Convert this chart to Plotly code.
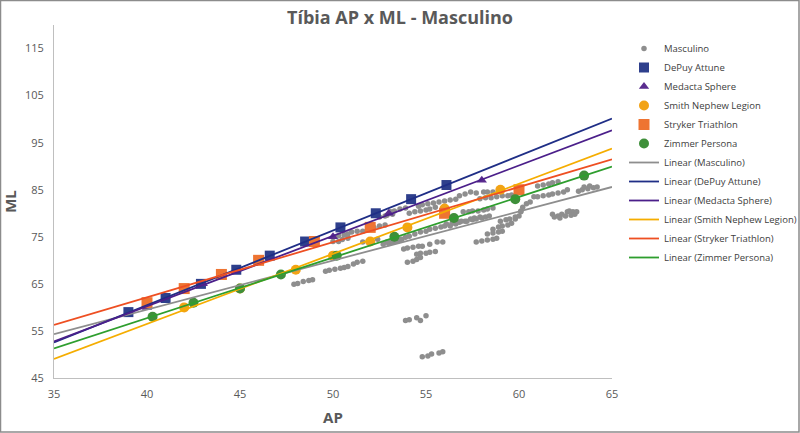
import numpy as np
import plotly.graph_objects as go

# ---------------- data ----------------
masc_x = [47.9, 48.1, 48.4, 48.7, 48.9,
          49.6, 49.8, 50.1, 50.4, 50.6, 50.8, 51.1, 51.3, 51.6,
          50.0, 50.3, 50.5, 50.8,
          50.8, 51.0, 51.3, 51.6,
          52.5, 52.8, 52.9, 53.2,
          52.7, 53.0, 53.2, 53.5, 53.7,
          53.8, 54.0, 54.3, 54.6, 54.8, 55.2, 55.6, 55.9,
          54.0, 54.3, 54.5, 54.7, 55.0, 55.2, 55.5, 54.5, 54.7,
          53.9, 54.1, 54.5, 54.7, 55.0,
          54.8, 55.1, 55.3, 55.7, 55.9,
          56.8, 57.1, 57.4, 57.7, 58.1, 58.3, 58.6,
          57.9, 58.2, 58.5,
          57.7, 58.0, 58.3, 58.6, 58.8,
          58.6, 58.9, 59.1, 59.4, 59.6, 59.8, 60.1,
          59.0, 59.3, 59.5, 59.8, 60.0,
          61.0, 61.3, 61.6, 61.8, 62.1,
          60.8, 61.0, 61.3, 61.6, 61.8, 62.1, 62.4, 62.6,
          63.2, 63.4, 63.7, 64.0, 64.2,
          63.5, 63.8,
          61.8, 62.1, 62.3, 62.6, 62.7, 62.9, 63.1,
          61.9, 62.2, 62.5, 62.8, 63.0,
          60.1, 60.2, 60.4, 60.6,
          58.8, 59.1, 59.4, 59.6,
          58.3, 58.6, 58.9, 59.1,
          53.1, 53.3, 53.6, 53.9, 54.1, 54.4, 54.7, 55.0, 55.2, 55.5, 55.8, 56.0,
          56.3, 56.6, 56.8, 57.1, 57.4, 57.6, 57.9, 58.2, 58.4,
          54.1, 54.4, 54.7, 55.0, 55.2, 55.5,
          53.1, 53.3, 53.6, 53.9,
          57.0, 57.3, 57.5, 57.8, 58.1, 58.3, 58.6,
          56.1, 56.4, 56.7, 56.9, 57.2, 57.5, 57.7, 58.0,
          51.6, 52.0, 52.4, 52.9, 53.2, 53.4,
          54.6, 54.8, 55.1, 55.4, 55.7, 56.0, 56.3, 56.6,
          51.9, 52.2, 52.5, 52.8, 50.3, 50.6]
masc_y = [64.9, 65.1, 65.5, 65.7, 65.9,
          67.7, 67.9, 68.1, 68.3, 68.5, 68.7, 69.2, 69.6, 69.8,
          74.0, 74.0, 74.4, 74.7,
          75.6, 76.0, 76.2, 76.2,
          79.2, 79.4, 79.6, 79.8,
          73.4, 73.6, 73.9, 74.1, 74.5,
          72.4, 72.6, 72.8, 73.0, 73.0, 73.4, 73.9, 73.9,
          69.6, 69.8, 70.2, 70.6, 71.5, 71.7, 71.9, 71.3, 71.5,
          57.2, 57.4, 57.8, 57.2, 58.2,
          49.5, 49.7, 50.1, 50.3, 50.6,
          83.7, 84.1, 84.5, 84.3, 84.5, 84.5, 84.5,
          83.1, 83.3, 83.3,
          73.9, 74.1, 74.3, 74.5, 74.7,
          76.6, 77.1, 77.3, 77.5, 77.9, 78.8, 80.3,
          78.3, 78.6, 78.8, 79.2, 79.4,
          85.8, 86.0, 86.2, 86.5, 86.7,
          83.5, 83.5, 83.7, 83.9, 84.1, 84.3, 84.5, 85.0,
          84.7, 85.0, 85.2, 85.4, 85.6,
          85.6, 85.8,
          79.8, 79.4, 79.8, 80.3, 80.5, 80.3, 80.3,
          79.2, 79.0, 79.4, 79.6, 79.8,
          80.5, 81.3, 82.0, 82.4,
          83.5, 83.7, 83.7, 83.9,
          75.6, 75.8, 76.0, 76.2,
          73.9, 74.1, 74.5, 74.9, 75.1, 75.6, 76.0, 76.2, 76.6, 76.8, 77.1, 77.3,
          77.3, 77.7, 78.1, 78.3, 78.8, 79.0, 79.2, 79.2, 79.4,
          80.0, 80.3, 80.5, 80.7, 80.9, 81.3,
          80.3, 80.5, 80.9, 81.1,
          80.3, 80.3, 80.5, 80.5, 80.7, 80.9, 81.1,
          77.7, 77.9, 78.1, 78.3, 78.3, 78.6, 78.8, 79.0,
          73.9, 74.1, 74.5, 73.9, 73.9, 74.1,
          81.5, 81.8, 82.0, 82.2, 82.4, 82.6, 82.8, 83.0,
          76.6, 77.0, 77.3, 77.5, 75.2, 75.4]

depuy_x = [39.0, 41.0, 42.9, 44.8, 46.6, 48.5, 50.4, 52.3, 54.2, 56.1]
depuy_y = [59, 62, 65, 68, 71, 74, 77, 80, 83, 86]

medacta_x = [40.0, 43.0, 50.0, 53.0, 58.0]
medacta_y = [60, 65, 75, 80, 87]

smith_x = [42, 45, 48, 50, 52, 54, 56, 59]
smith_y = [60, 64, 68, 71, 74, 77, 81, 85]

stryker_x = [40, 42, 44, 46, 49, 52, 56, 60]
stryker_y = [61, 64, 67, 70, 74, 77, 80, 85]

zimmer_x = [40.3, 42.5, 45.0, 47.2, 50.2, 53.3, 56.5, 59.8, 63.5]
zimmer_y = [58, 61, 64, 67, 71, 75, 79, 83, 88]

x_range = [35, 65]
y_range = [45, 120]
x_ticks = [35, 40, 45, 50, 55, 60, 65]
y_ticks = [45, 55, 65, 75, 85, 95, 105, 115]

# ---------------- figure ----------------
FONT = "Open Sans"
TXT = "#595959"

series = [
    ("Masculino", masc_x, masc_y, dict(symbol="circle", size=5.5, color="#8E8E8E"), "#8E8E8E"),
    ("DePuy Attune", depuy_x, depuy_y, dict(symbol="square", size=10, color="#2E3F8C"), "#1F2E86"),
    ("Medacta Sphere", medacta_x, medacta_y, dict(symbol="triangle-up", size=9, color="#5A2C8E"), "#4B1F8A"),
    ("Smith Nephew Legion", smith_x, smith_y, dict(symbol="circle", size=10, color="#F2A316"), "#F5AD00"),
    ("Stryker Triathlon", stryker_x, stryker_y, dict(symbol="square", size=11, color="#EE7432"), "#EE4F22"),
    ("Zimmer Persona", zimmer_x, zimmer_y, dict(symbol="circle", size=10, color="#3F8F3A"), "#2E9E2E"),
]

fig = go.Figure()
for name, xs, ys, mk, _ in series:
    fig.add_trace(go.Scatter(x=xs, y=ys, mode="markers", name=name, marker=mk))

# linear trendlines (least-squares fit of each series), like the spreadsheet's "Linear" trendline
for name, xs, ys, _, lc in series:
    slope, icpt = np.polyfit(np.array(xs, float), np.array(ys, float), 1)
    lx = np.array(x_range, float)
    fig.add_trace(go.Scatter(x=lx, y=slope * lx + icpt, mode="lines",
                             name=f"Linear ({name})", line=dict(color=lc, width=1.8)))

W, H = 800, 433
L, R, T, B = 54, 188, 25, 55
pw, ph = W - L - R, H - T - B

fig.update_layout(
    width=W, height=H,
    margin=dict(l=L, r=R, t=T, b=B, autoexpand=False),
    paper_bgcolor="white", plot_bgcolor="white",
    font=dict(family=FONT, color=TXT, size=11),
    title=dict(text="Tíbia AP x ML - Masculino", x=0.5, xref="container", xanchor="center",
               y=1 - 18 / H, yref="container", yanchor="middle",
               font=dict(family=FONT, size=18, color=TXT, weight=700)),
    showlegend=True,
    legend=dict(x=(624 - L) / pw, xanchor="left", y=1 - (34 - T) / ph, yanchor="top",
                font=dict(family=FONT, size=9.5, color="#404040"),
                bgcolor="rgba(0,0,0,0)", tracegroupgap=0, itemwidth=30),
    xaxis=dict(range=x_range, tickvals=x_ticks, showgrid=False, zeroline=False,
               showline=True, linecolor="#BFBFBF", linewidth=1, ticks="",
               ticklabelstandoff=6,
               tickfont=dict(size=11, color=TXT),
               title=dict(text="AP", font=dict(size=15, color=TXT, weight=700), standoff=12)),
    yaxis=dict(range=y_range, tickvals=y_ticks, showgrid=False, zeroline=False,
               showline=True, linecolor="#BFBFBF", linewidth=1, ticks="",
               ticklabelstandoff=7,
               tickfont=dict(size=11, color=TXT),
               title=dict(text="ML", font=dict(size=15, color=TXT, weight=700), standoff=6)),
    shapes=[dict(type="rect", xref="paper", yref="paper",
                 x0=-L / pw + 0.5 / pw, x1=1 + (R - 1) / pw,
                 y0=-(B - 1) / ph, y1=1 + (T - 0.5) / ph,
                 line=dict(color="#8C8C8C", width=1.5), layer="below")],
)

fig.write_html("out.html")
